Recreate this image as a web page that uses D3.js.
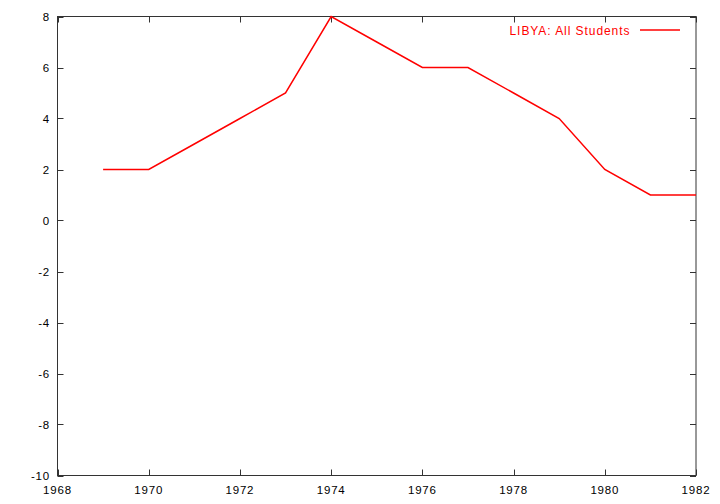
<!DOCTYPE html>
<html><head><meta charset="utf-8">
<script src="https://cdn.jsdelivr.net/npm/d3@7"></script>
<style>body{margin:0;background:#fff}svg{display:block}</style>
</head><body>
<script>
const years = [1969,1970,1971,1972,1973,1974,1975,1976,1977,1978,1979,1980,1981,1982];
const values = [2,2,3,4,5,8,7,6,6,5,4,2,1,1];
const seriesName = "LIBYA: All Students";
const xTicks = [1968,1970,1972,1974,1976,1978,1980,1982];
const yTicks = [-10,-8,-6,-4,-2,0,2,4,6,8];

const W=720,H=504;
const L=57.5,R=696,T=16.5,B=475.5;
const svg=d3.select("body").append("svg").attr("width",W).attr("height",H);
const x=d3.scaleLinear().domain([1968,1982]).range([L,R]);
const y=d3.scaleLinear().domain([-10,8]).range([B,T]);
const font="Liberation Sans, Arial, Helvetica, sans-serif";
const ax="#333";
const tl=6;

// frame
svg.append("rect").attr("x",L).attr("y",T).attr("width",R-L).attr("height",B-T)
  .attr("fill","none").attr("stroke",ax).attr("stroke-width",1);

// ticks
const g=svg.append("g").attr("stroke",ax).attr("stroke-width",1);
xTicks.forEach(t=>{
  const px=Math.round(x(t))+0.5;
  g.append("line").attr("x1",px).attr("x2",px).attr("y1",B).attr("y2",B-tl);
  g.append("line").attr("x1",px).attr("x2",px).attr("y1",T).attr("y2",T+tl);
});
yTicks.forEach(t=>{
  const py=Math.round(y(t))+0.5;
  g.append("line").attr("x1",L).attr("x2",L+tl).attr("y1",py).attr("y2",py);
  g.append("line").attr("x1",R).attr("x2",R-tl).attr("y1",py).attr("y2",py);
});

// labels
svg.append("g").selectAll("text").data(xTicks).join("text")
  .attr("x",d=>x(d)).attr("y",B+18).attr("text-anchor","middle")
  .attr("font-family",font).attr("font-size",11.5).attr("letter-spacing",0.8)
  .attr("fill","#000").text(d=>d);
svg.append("g").selectAll("text").data(yTicks).join("text")
  .attr("x",L-7.5).attr("y",d=>y(d)+4).attr("text-anchor","end")
  .attr("font-family",font).attr("font-size",11.5).attr("letter-spacing",0.8)
  .attr("fill","#000").text(d=>d);

// line
svg.append("path").datum(years.map((yr,i)=>[yr,values[i]]))
  .attr("fill","none").attr("stroke","#ff0000").attr("stroke-width",1.5)
  .attr("d",d3.line().x(d=>x(d[0])).y(d=>y(d[1])));

// legend
svg.append("text").attr("x",509.5).attr("y",35)
  .attr("textLength",120).attr("lengthAdjust","spacing")
  .attr("font-family",font).attr("font-size",12).attr("fill","#ff0000").text(seriesName);
svg.append("line").attr("x1",640).attr("x2",680).attr("y1",30).attr("y2",30)
  .attr("stroke","#ff0000").attr("stroke-width",1.5);
</script>
</body></html>
